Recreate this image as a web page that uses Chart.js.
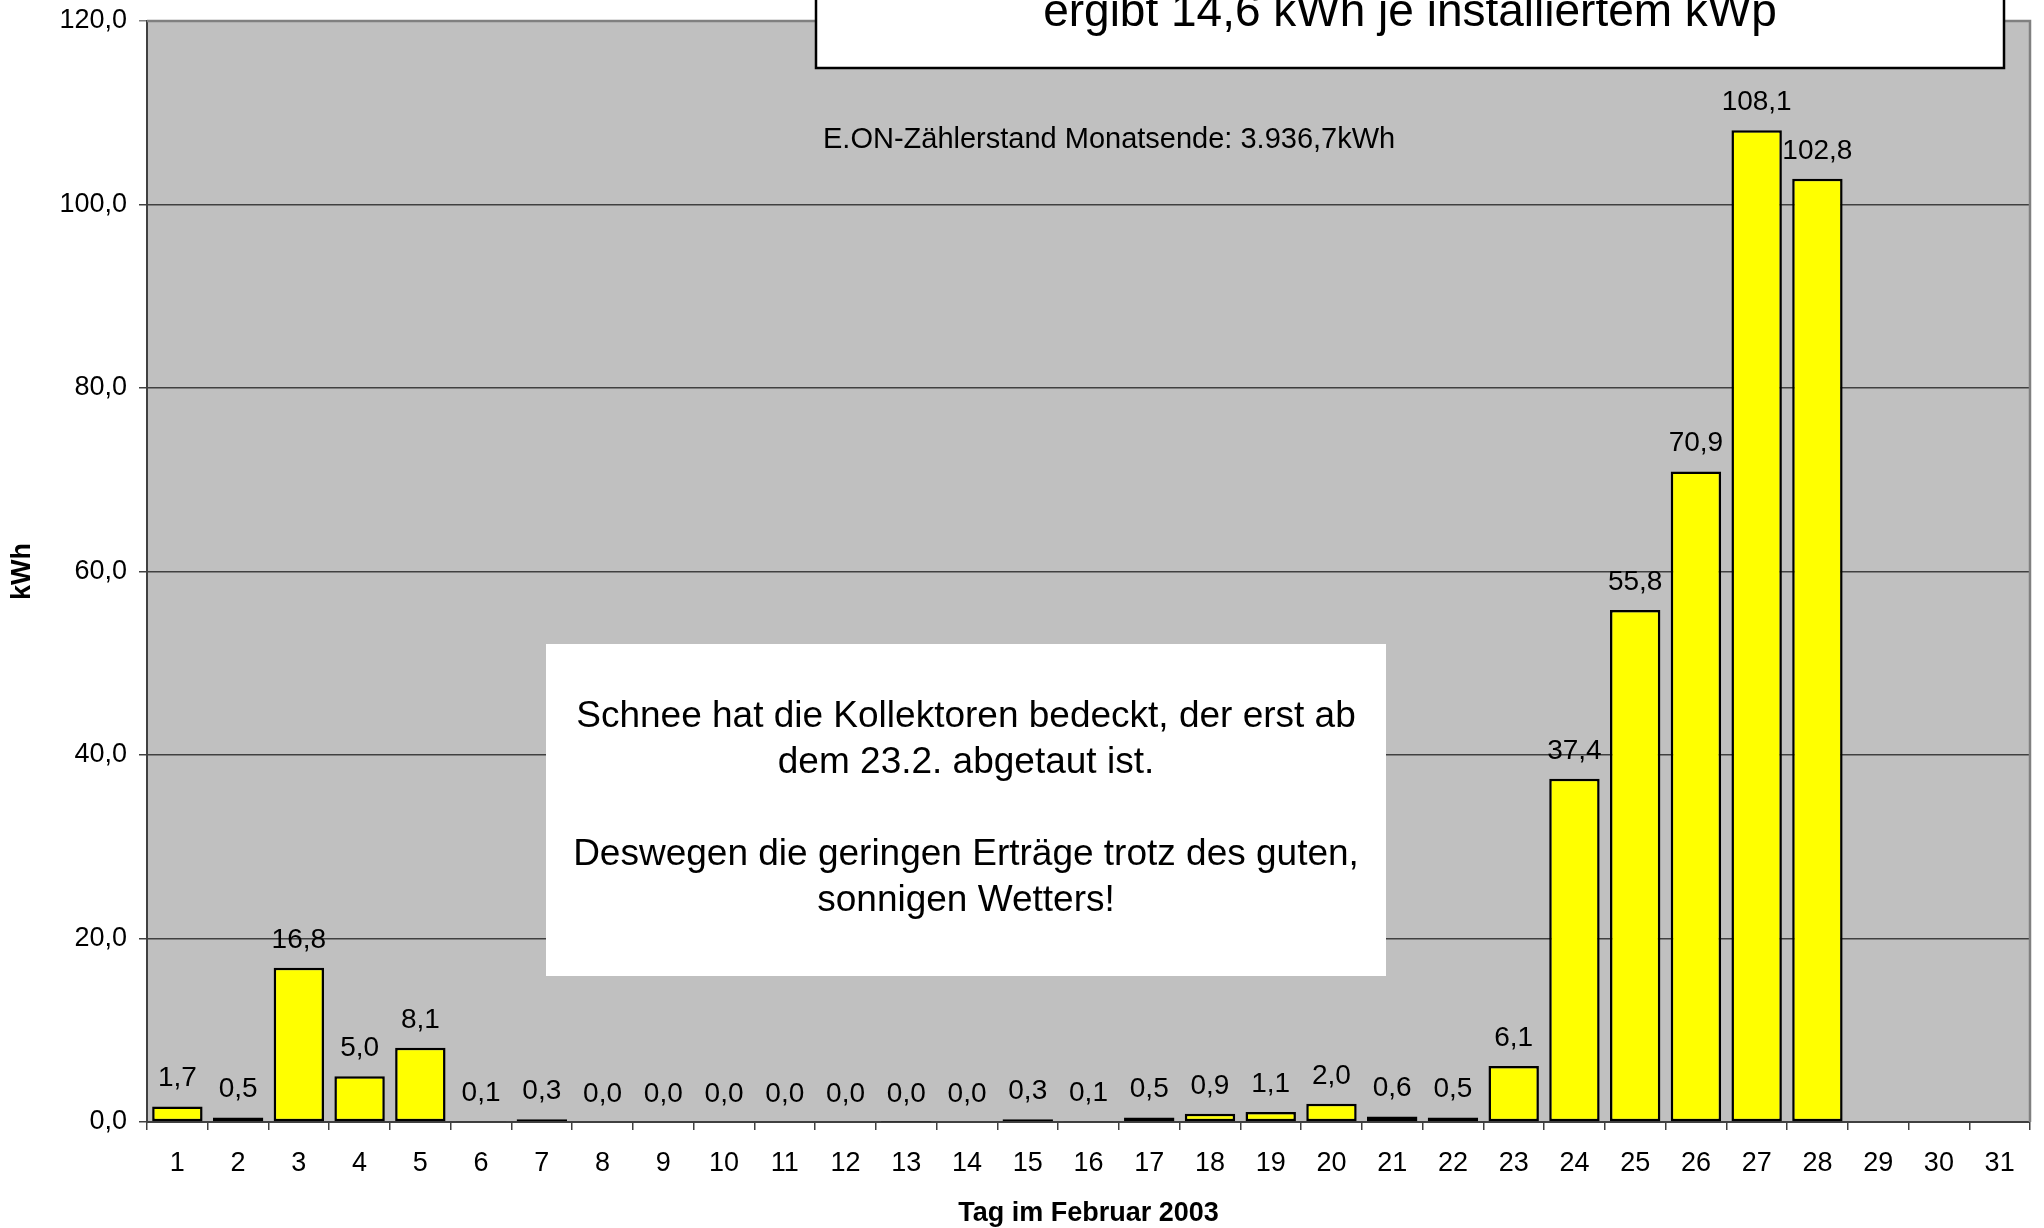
<!DOCTYPE html>
<html>
<head>
<meta charset="utf-8">
<script src="https://cdn.jsdelivr.net/npm/chart.js@4"></script>
<style>
  html, body { margin: 0; padding: 0; background: #fff; }
  #wrap { width: 2044px; height: 1228px; }
</style>
</head>
<body>
<div id="wrap"><canvas id="chart" width="2044" height="1228"></canvas></div>
<script>
// Tageserträge Februar 2003 (kWh)
const days = Array.from({ length: 31 }, (_, i) => String(i + 1));
const yields = [
  1.7, 0.5, 16.8, 5.0, 8.1, 0.1, 0.3, 0.0, 0.0, 0.0,
  0.0, 0.0, 0.04, 0.0, 0.3, 0.1, 0.5, 0.9, 1.1, 2.0,
  0.6, 0.5, 6.1, 37.4, 55.8, 70.9, 108.1, 102.8, null, null, null
];
const yTicks = [0, 20, 40, 60, 80, 100, 120];

const xTitle = 'Tag im Februar 2003';
const yTitle = 'kWh';
const headline = 'ergibt 14,6 kWh je installiertem kWp';
const meterNote = 'E.ON-Zählerstand Monatsende: 3.936,7kWh';
const snowNote = [
  'Schnee hat die Kollektoren bedeckt, der erst ab',
  'dem 23.2. abgetaut ist.',
  '',
  'Deswegen die geringen Erträge trotz des guten,',
  'sonnigen Wetters!'
];

const FONT = 'Arial, "Liberation Sans", Helvetica, sans-serif';
const fmt = v => v.toFixed(1).replace('.', ',');

const plotFrame = {
  id: 'plotFrame',
  beforeDraw(chart) {
    const { ctx, chartArea: a } = chart;
    ctx.save();
    ctx.fillStyle = '#c0c0c0';
    ctx.fillRect(a.left, a.top, a.right - a.left, a.bottom - a.top);
    ctx.restore();
  },
  afterDraw(chart) {
    const { ctx, chartArea: a } = chart;
    ctx.save();
    ctx.strokeStyle = '#808080';
    ctx.lineWidth = 2.5;
    ctx.beginPath();
    ctx.moveTo(a.left, a.top);
    ctx.lineTo(a.right, a.top);
    ctx.lineTo(a.right, a.bottom);
    ctx.stroke();

    // axis titles
    ctx.fillStyle = '#000';
    ctx.textAlign = 'center';
    ctx.textBaseline = 'middle';
    ctx.font = 'bold 27px ' + FONT;
    ctx.fillText(xTitle, (a.left + a.right) / 2, 1214);
    ctx.translate(23, (a.top + a.bottom) / 2);
    ctx.rotate(-Math.PI / 2);
    ctx.fillText(yTitle, 0, 0);
    ctx.restore();
  }
};

const valueLabels = {
  id: 'valueLabels',
  afterDatasetsDraw(chart) {
    const { ctx } = chart;
    const meta = chart.getDatasetMeta(0);
    ctx.save();
    ctx.fillStyle = '#000';
    ctx.font = '28px ' + FONT;
    ctx.textAlign = 'center';
    ctx.textBaseline = 'alphabetic';
    meta.data.forEach((bar, i) => {
      const v = yields[i];
      if (v === null) return;
      ctx.fillText(fmt(v), bar.x, bar.y - 20);
    });
    ctx.restore();
  }
};

const notes = {
  id: 'notes',
  afterDraw(chart) {
    const { ctx } = chart;
    ctx.save();
    // Kasten oben
    ctx.fillStyle = '#fff';
    ctx.fillRect(816, -10, 1188, 78);
    ctx.strokeStyle = '#000';
    ctx.lineWidth = 2.5;
    ctx.strokeRect(816, -10, 1188, 78);
    ctx.fillStyle = '#000';
    ctx.textAlign = 'center';
    ctx.textBaseline = 'alphabetic';
    ctx.font = '46px ' + FONT;
    ctx.fillText(headline, 1410, 26);

    ctx.textAlign = 'left';
    ctx.font = '29px ' + FONT;
    ctx.fillText(meterNote, 823, 148);

    // Hinweis Schnee
    ctx.fillStyle = '#fff';
    ctx.fillRect(546, 644, 840, 332);
    ctx.fillStyle = '#000';
    ctx.textAlign = 'center';
    ctx.textBaseline = 'middle';
    ctx.font = '37px ' + FONT;
    snowNote.forEach((line, i) => {
      ctx.fillText(line, 966, 717 + i * 46);
    });
    ctx.restore();
  }
};

new Chart(document.getElementById('chart').getContext('2d'), {
  type: 'bar',
  data: {
    labels: days,
    datasets: [{
      data: yields,
      backgroundColor: '#ffff00',
      borderColor: '#000',
      borderWidth: 2.5,
      borderSkipped: false,
      barPercentage: 0.83,
      categoryPercentage: 1.0
    }]
  },
  options: {
    responsive: false,
    animation: false,
    events: [],
    layout: { padding: { top: 21, right: 14, left: 0, bottom: 0 } },
    plugins: {
      legend: { display: false },
      tooltip: { enabled: false },
      title: { display: false }
    },
    scales: {
      x: {
        afterFit: s => {
          s.height = 106;
          s.paddingLeft = 0;
          s.paddingRight = 0;
        },
        grid: {
          display: true,
          drawOnChartArea: false,
          drawTicks: true,
          tickLength: 8,
          color: '#404040',
          lineWidth: 1.5
        },
        border: { color: '#404040', width: 2 },
        ticks: {
          color: '#000',
          font: { family: FONT, size: 27 },
          padding: 17,
          maxRotation: 0,
          autoSkip: false
        }
      },
      y: {
        min: 0,
        max: 120,
        afterFit: s => {
          s.width = 147;
          s.paddingTop = 0;
          s.paddingBottom = 0;
        },
        afterBuildTicks: s => { s.ticks = yTicks.map(v => ({ value: v })); },
        grid: {
          color: c => (c.tick && c.tick.value === 120 ? '#808080' : '#404040'),
          lineWidth: 1.5,
          tickLength: 8
        },
        border: { color: '#404040', width: 2 },
        ticks: {
          color: '#000',
          font: { family: FONT, size: 27 },
          padding: 12,
          callback: v => fmt(v)
        }
      }
    }
  },
  plugins: [plotFrame, valueLabels, notes]
});
</script>
</body>
</html>
